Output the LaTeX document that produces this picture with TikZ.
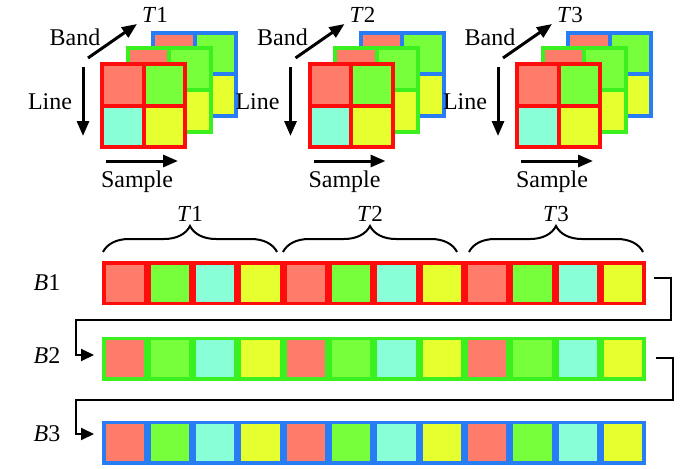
\documentclass[tikz,border=0pt]{standalone}
\usepackage{fontspec}
\setmainfont{Liberation Serif}
\usetikzlibrary{arrows.meta,decorations.pathreplacing}
\definecolor{salmon}{RGB}{255,123,106}
\definecolor{lime}{RGB}{120,255,60}
\definecolor{aqua}{RGB}{136,255,214}
\definecolor{yellowc}{RGB}{230,255,46}
\definecolor{redB}{RGB}{255,12,12}
\definecolor{greenB}{RGB}{58,240,30}
\definecolor{blueB}{RGB}{40,125,245}
\begin{document}
\begin{tikzpicture}[x=1pt,y=-1pt,
  lbl/.style={font=\fontsize{24}{28}\selectfont, inner sep=0pt},
  tlbl/.style={font=\fontsize{23}{27}\selectfont, inner sep=0pt},
  axarrow/.style={line width=3pt, -{Triangle[length=15pt,width=12pt]}},
  conn/.style={line width=2pt, -{Triangle[length=13pt,width=12pt]}},
  bracestyle/.style={line width=2pt, decorate, decoration={brace, amplitude=26pt}},
  cell/.style={draw, line width=3.5pt, minimum width=41.8pt, minimum height=40.5pt, inner sep=0pt},
]
\useasboundingbox (0,0) rectangle (700,468);

% ---- top cubes ----
\foreach \g/\n in {0/1,1/2,2/3} {
  \foreach \k/\col in {2/blueB,1/greenB,0/redB} {
    \pgfmathsetmacro\x{100+207.5*\g+25.5*\k+2}
    \pgfmathsetmacro\y{62-15.5*\k+2}
    \fill[salmon] (\x,\y) rectangle ++(41.5,41.5);
    \fill[lime] (\x+41.5,\y) rectangle ++(41.5,41.5);
    \fill[aqua] (\x,\y+41.5) rectangle ++(41.5,41.5);
    \fill[yellowc] (\x+41.5,\y+41.5) rectangle ++(41.5,41.5);
    \draw[\col, line width=4pt] (\x,\y) rectangle ++(83,83)
      (\x+41.5,\y) -- ++(0,83) (\x,\y+41.5) -- ++(83,0);
  }
  \pgfmathsetmacro\dx{207.5*\g}
  \node[lbl] (band\n) at (75+\dx,37) {Band};
  \node[tlbl] (top\n) at (155+\dx,15) {\textit{T}\n};
  \node[lbl] (line\n) at (50+\dx,102) {Line};
  \node[lbl] (sample\n) at (137+\dx,182) {Sample};
  \coordinate (bs\n) at (88+\dx,58);
  \coordinate (be\n) at (137+\dx,24);
  \coordinate (ls\n) at (83+\dx,67);
  \coordinate (le\n) at (83+\dx,136);
  \coordinate (ss\n) at (106+\dx,161);
  \coordinate (se\n) at (178+\dx,161);
  \draw[axarrow] (bs\n) -- (be\n);
  \draw[axarrow] (ls\n) -- (le\n);
  \draw[axarrow] (ss\n) -- (se\n);
}

% ---- band rows ----
\foreach \r/\col/\yc in {1/redB/283, 2/greenB/358.5, 3/blueB/442.5} {
  \foreach \i/\f in {1/salmon,2/lime,3/aqua,4/yellowc,5/salmon,6/lime,7/aqua,8/yellowc,9/salmon,10/lime,11/aqua,12/yellowc} {
    \node[cell, draw=\col, fill=\f] (r\r c\i) at ({102+45.3*(\i-0.5)}, \yc) {};
  }
}

% ---- row labels ----
\node[lbl] (b1) at (47,283) {\textit{B}1};
\node[lbl] (b2) at (47,356) {\textit{B}2};
\node[lbl] (b3) at (47,434) {\textit{B}3};

% ---- braces ----
\coordinate (br1a) at (103,252); \coordinate (br1b) at (277,252);
\coordinate (br2a) at (283,252); \coordinate (br2b) at (457,252);
\coordinate (br3a) at (469,252); \coordinate (br3b) at (643,252);
\draw[bracestyle] (br1a) -- (br1b);
\draw[bracestyle] (br2a) -- (br2b);
\draw[bracestyle] (br3a) -- (br3b);
\node[tlbl] (tb1) at (190,214) {\textit{T}1};
\node[tlbl] (tb2) at (370,214) {\textit{T}2};
\node[tlbl] (tb3) at (556,214) {\textit{T}3};

% ---- connectors ----
\coordinate (c1s) at (654,278);
\coordinate (c1e) at (94,355);
\coordinate (c2s) at (656,358);
\coordinate (c2e) at (94,434);
\draw[conn] (c1s) -| (671,320) -| (76,355) -- (c1e);
\draw[conn] (c2s) -| (673,400) -| (76,434) -- (c2e);
\end{tikzpicture}
\end{document}
